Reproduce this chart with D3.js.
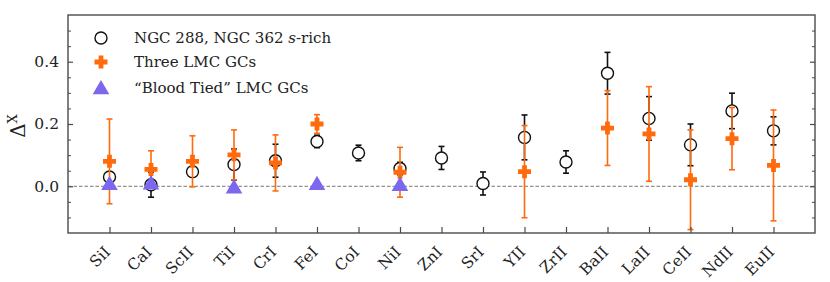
<!DOCTYPE html>
<html>
<head>
<meta charset="utf-8">
<script src="https://cdn.jsdelivr.net/npm/d3@7"></script>
<style>
body { margin: 0; background: #fff; }
</style>
</head>
<body>
<div id="chart"></div>
<script>
var width = 830;
var height = 282;
var serif = "DejaVu Serif";

var margin = {left: 68, right: 15, top: 15, bottom: 49};

// categories (elements)
var elements = ["SiI", "CaI", "ScII", "TiI", "CrI", "FeI", "CoI", "NiI", "ZnI",
	"SrI", "YII", "ZrII", "BaII", "LaII", "CeII", "NdII", "EuII"];

// NGC 288, NGC 362 s-rich
var ngcValues = [0.030, 0.005, 0.047, 0.070, 0.082, 0.144, 0.107, 0.057, 0.091,
	0.009, 0.157, 0.078, 0.363, 0.218, 0.133, 0.242, 0.178];
var ngcErrors = [0.015, 0.040, 0.015, 0.050, 0.053, 0.020, 0.025, 0.020, 0.037,
	0.037, 0.072, 0.036, 0.067, 0.070, 0.067, 0.057, 0.045];

// Three LMC GCs (null = no measurement)
var lmcValues = [0.080, 0.054, 0.080, 0.101, 0.075, 0.200, null, 0.045, null,
	null, 0.047, null, 0.187, 0.168, 0.021, 0.153, 0.067];
var lmcErrors = [0.136, 0.060, 0.082, 0.080, 0.090, 0.030, null, 0.080, null,
	null, 0.148, null, 0.120, 0.152, 0.160, 0.100, 0.178];

// "Blood Tied" LMC GCs
var tiedValues = [0.008, 0.010, null, -0.003, null, 0.008, null, 0.005, null,
	null, null, null, null, null, null, null, null];

var yTicks = [0.0, 0.2, 0.4];
var yMinorTicks = [-0.1, -0.05, 0.05, 0.1, 0.15, 0.25, 0.3, 0.35, 0.45, 0.5];

var legendLabels = ["NGC 288, NGC 362 ", "Three LMC GCs", "\u201CBlood Tied\u201D LMC GCs"];

var orange = "#ff6a0d";
var purple = "#7b68ee";
var frameColor = "#4a4a4a";

var svg = d3.select("#chart")
	.append("svg")
	.attr("width", width)
	.attr("height", height)
	.attr("font-family", serif);

var x = d3.scaleLinear()
	.domain([-1, elements.length])
	.range([margin.left, width - margin.right]);

var y = d3.scaleLinear()
	.domain([-0.15, 0.55])
	.range([height - margin.bottom, margin.top]);

var plot = svg.append("g");

// zero line ------------------------------------------------------
plot.append("line")
	.attr("x1", x.range()[0])
	.attr("x2", x.range()[1])
	.attr("y1", y(0))
	.attr("y2", y(0))
	.attr("stroke", "#777")
	.attr("stroke-width", 1)
	.attr("stroke-dasharray", "3.5,2");

// error bars -----------------------------------------------------
function drawErrors(values, errors, color) {
	var pts = values.map(function(v, i) { return {i: i, v: v, e: errors[i]}; })
		.filter(function(d) { return d.v !== null; });
	var g = plot.append("g");
	pts.forEach(function(d) {
		var cx = x(d.i);
		g.append("line")
			.attr("x1", cx).attr("x2", cx)
			.attr("y1", y(d.v - d.e)).attr("y2", y(d.v + d.e))
			.attr("stroke", color).attr("stroke-width", 1.6);
		[d.v - d.e, d.v + d.e].forEach(function(c) {
			g.append("line")
				.attr("x1", cx - 3).attr("x2", cx + 3)
				.attr("y1", y(c)).attr("y2", y(c))
				.attr("stroke", color).attr("stroke-width", 1.6);
		});
	});
}

var plusPath = "M-2.4,-6.5H2.4V-2.4H6.5V2.4H2.4V6.5H-2.4V2.4H-6.5V-2.4H-2.4Z";
var triSymbol = d3.symbol().type(d3.symbolTriangle).size(120);

drawErrors(ngcValues, ngcErrors, "#111");

plot.append("g").selectAll("circle")
	.data(ngcValues)
	.enter()
	.append("circle")
		.attr("cx", function(d, i) { return x(i); })
		.attr("cy", function(d) { return y(d); })
		.attr("r", 6)
		.attr("fill", "#fff")
		.attr("stroke", "#111")
		.attr("stroke-width", 1.4);

drawErrors(lmcValues, lmcErrors, orange);

plot.append("g").selectAll("path")
	.data(lmcValues.map(function(v, i) { return {i: i, v: v}; }).filter(function(d) { return d.v !== null; }))
	.enter()
	.append("path")
		.attr("d", plusPath)
		.attr("transform", function(d) { return "translate(" + x(d.i) + "," + y(d.v) + ")"; })
		.attr("fill", orange);

plot.append("g").selectAll("path")
	.data(tiedValues.map(function(v, i) { return {i: i, v: v}; }).filter(function(d) { return d.v !== null; }))
	.enter()
	.append("path")
		.attr("d", triSymbol)
		.attr("transform", function(d) { return "translate(" + x(d.i) + "," + (y(d.v) + 1.5) + ")"; })
		.attr("fill", purple);

// axes -----------------------------------------------------------
var axes = svg.append("g");

axes.append("g")
	.attr("transform", "translate(" + margin.left + ",0)")
	.call(d3.axisLeft(y).tickValues(yTicks).tickSize(-5).tickPadding(9).tickFormat(d3.format(".1f")))
	.call(function(g) {
		g.attr("font-family", serif);
		g.select(".domain").remove();
		g.selectAll("line").attr("stroke", frameColor).attr("stroke-width", 1.2);
		g.selectAll("text").attr("font-size", 15.5).attr("fill", "#222");
	});

axes.append("g")
	.attr("transform", "translate(" + margin.left + ",0)")
	.call(d3.axisLeft(y).tickValues(yMinorTicks).tickSize(-3).tickFormat(""))
	.call(function(g) {
		g.select(".domain").remove();
		g.selectAll("line").attr("stroke", frameColor).attr("stroke-width", 1);
	});

axes.append("g")
	.attr("transform", "translate(" + (width - margin.right) + ",0)")
	.call(d3.axisRight(y).tickValues(yTicks).tickSize(-5).tickFormat(""))
	.call(function(g) {
		g.select(".domain").remove();
		g.selectAll("line").attr("stroke", frameColor).attr("stroke-width", 1.2);
	});

axes.append("g")
	.attr("transform", "translate(" + (width - margin.right) + ",0)")
	.call(d3.axisRight(y).tickValues(yMinorTicks).tickSize(-3).tickFormat(""))
	.call(function(g) {
		g.select(".domain").remove();
		g.selectAll("line").attr("stroke", frameColor).attr("stroke-width", 1);
	});

axes.append("g")
	.attr("transform", "translate(0," + (height - margin.bottom) + ")")
	.call(d3.axisBottom(x).tickValues(d3.range(elements.length)).tickSize(-6).tickFormat(""))
	.call(function(g) {
		g.select(".domain").remove();
		g.selectAll("line").attr("stroke", frameColor).attr("stroke-width", 1.2);
	});

axes.append("g").selectAll("text")
	.data(elements)
	.enter()
	.append("text")
		.attr("transform", function(d, i) {
			return "translate(" + (x(i) - 2) + "," + (height - margin.bottom + 16) + ") rotate(-45)";
		})
		.attr("text-anchor", "end")
		.attr("dy", "0.35em")
		.attr("font-size", 15.5)
		.attr("fill", "#222")
		.text(function(d) { return d; });

// frame
axes.append("rect")
	.attr("x", x.range()[0])
	.attr("y", y.range()[1])
	.attr("width", x.range()[1] - x.range()[0])
	.attr("height", y.range()[0] - y.range()[1])
	.attr("fill", "none")
	.attr("stroke", frameColor)
	.attr("stroke-width", 1.4);

// y label
var ylab = svg.append("text")
	.attr("transform", "translate(25," + 126 + ") rotate(-90)")
	.attr("text-anchor", "middle")
	.attr("fill", "#222")
	.attr("font-size", 20);
ylab.append("tspan").text("\u0394");
ylab.append("tspan").attr("dy", -8).attr("font-size", 13).text("X");

// legend ---------------------------------------------------------
var legend = svg.append("g");
var legY = [38, 62, 88];

legend.append("circle")
	.attr("cx", 101).attr("cy", legY[0]).attr("r", 6)
	.attr("fill", "#fff").attr("stroke", "#111").attr("stroke-width", 1.4);
legend.append("path")
	.attr("d", plusPath)
	.attr("transform", "translate(101," + legY[1] + ")")
	.attr("fill", orange);
legend.append("path")
	.attr("d", triSymbol)
	.attr("transform", "translate(101," + (legY[2] + 1.5) + ")")
	.attr("fill", purple);

legendLabels.forEach(function(label, i) {
	var t = legend.append("text")
		.attr("x", 134)
		.attr("y", legY[i])
		.attr("dy", "0.35em")
		.attr("font-size", 15)
		.attr("fill", "#222")
		.text(label);
	if (i === 0) {
		t.append("tspan").attr("font-style", "italic").text("s");
		t.append("tspan").text("-rich");
	}
});
</script>
</body>
</html>
